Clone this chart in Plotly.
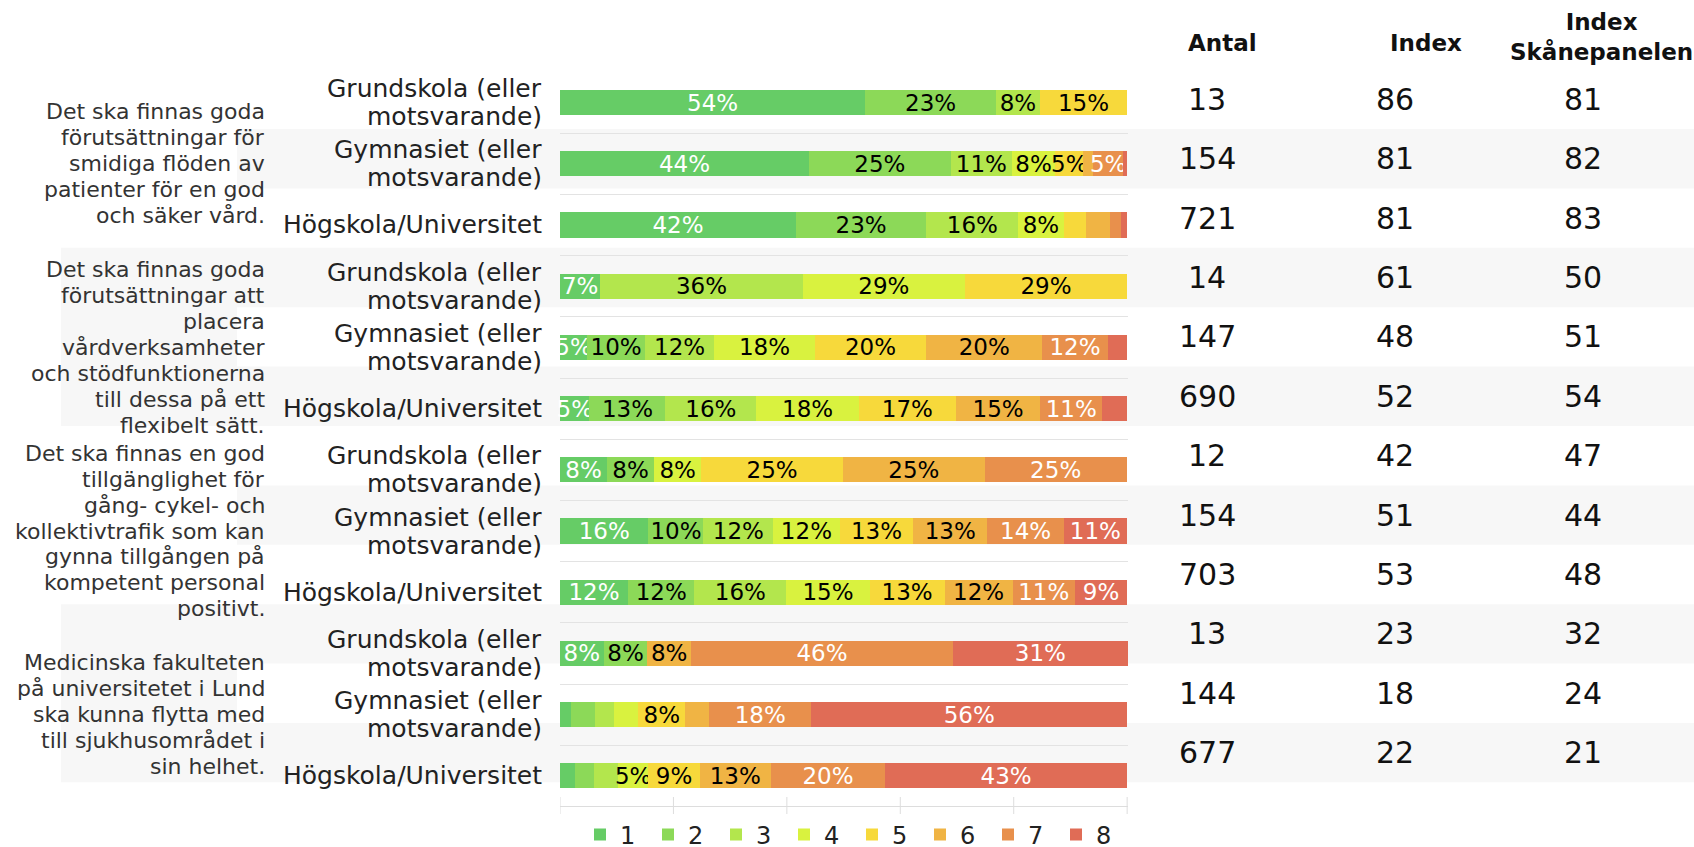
import plotly.graph_objects as go

W, H = 1694, 880  # figure is taller than the 847px window; the extra strip lies below the view
FONT = "DejaVu Sans"

questions = [
    "Det ska finnas goda<br>förutsättningar för<br>smidiga flöden av<br>patienter för en god<br>och säker vård.",
    "Det ska finnas goda<br>förutsättningar att<br>placera<br>vårdverksamheter<br>och stödfunktionerna<br>till dessa på ett<br>flexibelt sätt.",
    "Det ska finnas en god<br>tillgänglighet för<br>gång- cykel- och<br>kollektivtrafik som kan<br>gynna tillgången på<br>kompetent personal<br>positivt.",
    "Medicinska fakulteten<br>på universitetet i Lund<br>ska kunna flytta med<br>till sjukhusområdet i<br>sin helhet.",
]
groups = ["Grundskola (eller<br>motsvarande)", "Gymnasiet (eller<br>motsvarande)", "Högskola/Universitet"]
row_labels = [g for _ in questions for g in groups]
rows = list(range(len(row_labels)))

levels = ["1", "2", "3", "4", "5", "6", "7", "8"]
colors = ["#66cc66", "#8cd958", "#b3e64d", "#d9f23f", "#f7d93b", "#f0b444", "#e8904c", "#e06c56"]
label_colors = ["#ffffff", "#000000", "#000000", "#000000", "#000000", "#000000", "#ffffff", "#ffffff"]

# percentage share per answer level (rows in order of row_labels)
s1 = [53.8, 43.9, 41.6, 7.1, 4.8, 5.2, 8.3, 15.6, 12.0, 7.7, 1.9, 2.7]
s2 = [23.1, 25.0, 23.0, 0.0, 10.2, 13.4, 8.3, 9.7, 11.7, 7.7, 4.3, 3.3]
s3 = [7.7, 10.8, 16.2, 35.7, 12.2, 16.0, 0.0, 12.3, 16.2, 0.0, 3.4, 4.2]
s4 = [0.0, 7.6, 8.0, 28.6, 17.7, 18.1, 8.3, 11.7, 14.7, 0.0, 4.2, 5.4]
s5 = [15.4, 5.0, 4.0, 28.6, 19.7, 17.1, 25.0, 13.0, 13.2, 0.0, 8.3, 9.0]
s6 = [0.0, 1.7, 4.2, 0.0, 20.4, 14.9, 25.0, 13.0, 12.0, 7.7, 4.2, 12.6]
s7 = [0.0, 5.3, 2.0, 0.0, 11.6, 10.9, 25.0, 13.6, 11.0, 46.2, 18.0, 20.1]
s8 = [0.0, 0.7, 1.0, 0.0, 3.4, 4.4, 0.0, 11.0, 9.2, 30.8, 55.7, 42.7]
shares = [s1, s2, s3, s4, s5, s6, s7, s8]

antal = [13, 154, 721, 14, 147, 690, 12, 154, 703, 13, 144, 677]
index_vals = [86, 81, 81, 61, 48, 52, 42, 51, 53, 23, 18, 22]
index_skane = [81, 82, 83, 50, 51, 54, 47, 44, 48, 32, 24, 21]
col_headers = ["Antal", "Index", "Index<br>Skånepanelen"]
x_ticks = [0, 20, 40, 60, 80, 100]


def X(px):
    return px / W


def Y(py):
    return 1 - py / H


fig = go.Figure()
for lvl, col, tc, vals in zip(levels, colors, label_colors, shares):
    fig.add_trace(go.Bar(
        x=vals, y=rows, orientation="h", name=lvl,
        marker=dict(color=col, line=dict(width=0)),
        text=[f"{v:.0f}%" if v >= 4.5 else "" for v in vals],
        textposition="inside", insidetextanchor="middle", textangle=0,
        constraintext="none", cliponaxis=False,
        textfont=dict(family=FONT, size=23, color=tc),
        hoverinfo="skip",
    ))

shapes = []
# alternating row bands (table grid)
for i in rows:
    if i % 2 == 1:
        shapes.append(dict(type="rect", xref="paper", yref="y2", x0=X(237), x1=1,
                           y0=i - 0.5, y1=i + 0.5, fillcolor="#f7f7f7",
                           line=dict(width=0), layer="below"))
# question bands
for q in range(len(questions)):
    if q % 2 == 1:
        shapes.append(dict(type="rect", xref="paper", yref="y2", x0=X(61), x1=X(237),
                           y0=3 * q - 0.5, y1=3 * q + 2.5, fillcolor="#f7f7f7",
                           line=dict(width=0), layer="below"))
# axis tick marks
for t in x_ticks:
    shapes.append(dict(type="line", xref="x", yref="paper", x0=t, x1=t,
                       y0=Y(797), y1=Y(814), line=dict(color="#dddddd", width=1)))

annotations = []
# question texts, one annotation per line for tight line spacing
Q_LINE = 25.9
for q, txt in enumerate(questions):
    lines = txt.split("<br>")
    n = len(lines)
    for k, ln in enumerate(lines):
        annotations.append(dict(text=ln, xref="paper", yref="y", x=X(267), y=3 * q + 1,
                                yshift=((n - 1) / 2 - k) * Q_LINE,
                                xanchor="right", yanchor="middle", align="right", showarrow=False,
                                font=dict(family=FONT, size=22, color="#333333")))
# row labels
R_LINE = 28
for i, txt in enumerate(row_labels):
    lines = txt.split("<br>")
    n = len(lines)
    for k, ln in enumerate(lines):
        annotations.append(dict(text=ln, xref="paper", yref="y", x=X(543.5), y=i,
                                yshift=((n - 1) / 2 - k) * R_LINE,
                                xanchor="right", yanchor="middle", showarrow=False,
                                font=dict(family=FONT, size=25, color="#222222")))
for vals, xc in zip([antal, index_vals, index_skane], [1207, 1395, 1583]):
    for i, v in enumerate(vals):
        annotations.append(dict(text=str(v), xref="paper", yref="y2", x=X(xc), y=i,
                                xanchor="center", yanchor="middle", showarrow=False,
                                font=dict(family=FONT, size=30, color="#111111")))
for txt, xc, yc in zip(col_headers, [1222, 1426, 1601], [43, 43, 37]):
    annotations.append(dict(text=f"<b>{txt}</b>", xref="paper", yref="paper", x=X(xc), y=Y(yc),
                            xanchor="center", yanchor="middle", showarrow=False,
                            font=dict(family=FONT, size=23, color="#111111")))

fig.update_layout(
    width=W, height=H,
    margin=dict(l=0, r=0, t=0, b=0, pad=0, autoexpand=False),
    paper_bgcolor="white", plot_bgcolor="rgba(0,0,0,0)",
    barmode="stack", bargap=0.59,
    font=dict(family=FONT, color="#222222"),
    xaxis=dict(domain=[X(560), X(1128)], range=[0, 100.15], showgrid=False, zeroline=False,
               showticklabels=False, showline=True, linecolor="#dddddd", linewidth=1,
               fixedrange=True),
    yaxis=dict(domain=[Y(806.4), Y(72)], range=[11.5, -0.5], tickmode="array",
               tickvals=rows, showticklabels=False, showgrid=False, zeroline=False,
               ticks="",
               minor=dict(tickmode="array", tickvals=[i - 0.5 for i in range(len(rows) + 1)],
                          showgrid=True, gridcolor="#e3e3e3", gridwidth=1, ticks=""),
               fixedrange=True),
    yaxis2=dict(domain=[Y(782.4), Y(69.6)], range=[11.5, -0.5], anchor="x", visible=False,
                showgrid=False, zeroline=False, fixedrange=True),
    legend=dict(orientation="h", x=X(580), xanchor="left", y=Y(835), yanchor="middle",
                font=dict(family=FONT, size=24, color="#222222"), traceorder="normal",
                entrywidth=23, entrywidthmode="pixels", bgcolor="rgba(0,0,0,0)"),
    shapes=shapes, annotations=annotations,
    showlegend=True,
)

fig.write_html("out.html", config={"displayModeBar": False},
               post_script="document.body.style.margin='0';document.body.style.overflow='hidden';")
